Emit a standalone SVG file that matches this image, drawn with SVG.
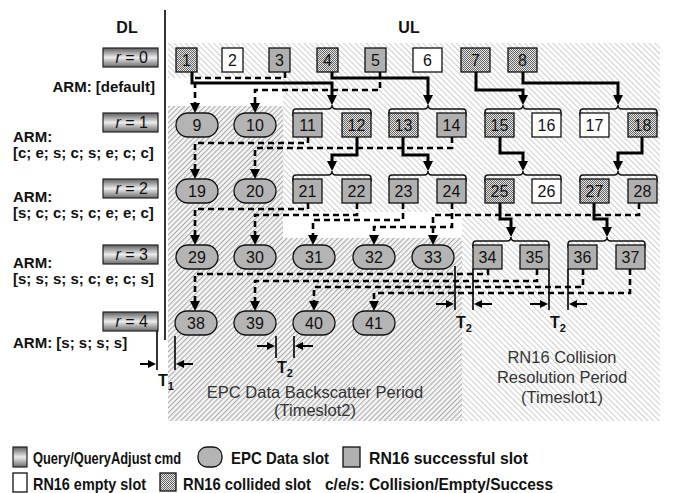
<svg xmlns="http://www.w3.org/2000/svg" width="675" height="493" viewBox="0 0 675 493">
<style>
text{font-family:"Liberation Sans",Arial,sans-serif;fill:#111}
.n{font-size:16px;text-anchor:middle}
.lab{font-size:15px;font-weight:bold}
.hd{font-size:16px;font-weight:bold}
.btxt{font-size:16px;text-anchor:end}
.lg{font-size:16.5px;font-weight:bold}
.per{font-size:16.5px;fill:#333;text-anchor:middle}
.cmd{fill:url(#grad);stroke:#222;stroke-width:1.2}
.succ{fill:#b0b0b0;stroke:#111;stroke-width:1.3}
.epc{fill:#b4b4b4;stroke:#111;stroke-width:1.3}
.empty{fill:#fff;stroke:#111;stroke-width:1.3}
.coll{fill:url(#chk);stroke:#111;stroke-width:1.3}
.brace{fill:none;stroke:#111;stroke-width:1.4}
.solid{fill:none;stroke:#000;stroke-width:3;marker-end:url(#ah)}
.dash{fill:none;stroke:#000;stroke-width:2.6;stroke-dasharray:6 4;marker-end:url(#ah)}
.tl{fill:none;stroke:#000;stroke-width:1.6}
.ta{fill:none;stroke:#000;stroke-width:2;marker-end:url(#as)}
</style>
<defs>
<linearGradient id="grad" x1="0" y1="0" x2="0" y2="1">
<stop offset="0" stop-color="#5e5e5e"/>
<stop offset="0.5" stop-color="#ececec"/>
<stop offset="1" stop-color="#6a6a6a"/>
</linearGradient>
<pattern id="chk" width="2" height="2" patternUnits="userSpaceOnUse">
<rect width="2" height="2" fill="#e6e6e6"/>
<rect width="1" height="1" fill="#666"/>
<rect x="1" y="1" width="1" height="1" fill="#666"/>
</pattern>
<pattern id="hl" width="4" height="4" patternUnits="userSpaceOnUse" patternTransform="rotate(-45)">
<rect width="4" height="4" fill="#fff"/>
<line x1="0.5" y1="0" x2="0.5" y2="4" stroke="#cfcfcf" stroke-width="1"/>
</pattern>
<pattern id="hd" width="3.6" height="3.6" patternUnits="userSpaceOnUse" patternTransform="rotate(45)">
<rect width="3.6" height="3.6" fill="#f4f4f4"/>
<line x1="0.5" y1="0" x2="0.5" y2="3.6" stroke="#a8a8a8" stroke-width="1"/>
</pattern>
<marker id="ah" viewBox="0 0 10 10" refX="0" refY="5" markerWidth="10" markerHeight="10" markerUnits="userSpaceOnUse" orient="auto">
<path d="M0,0 L10,5 L0,10 z" fill="#000"/>
</marker>
<marker id="as" viewBox="0 0 8 8" refX="0" refY="4" markerWidth="8" markerHeight="8" markerUnits="userSpaceOnUse" orient="auto">
<path d="M0,0 L8,4 L0,8 z" fill="#000"/>
</marker>
</defs>

<g id="backgrounds">
<path d="M168,43 H660 V421 H462 V212 H283 V78 H168 Z" fill="url(#hl)"/>
<path d="M168,106 H283 V238 H462 V421 H168 Z" fill="url(#hd)"/>
</g>

<g id="headers">
<text class="hd" x="127" y="33" text-anchor="middle">DL</text>
<text class="hd" x="409" y="33" text-anchor="middle">UL</text>
<line x1="165" y1="10" x2="165" y2="340" stroke="#000" stroke-width="1.6"/>
</g>

<g id="commands">
<g id="r0"><rect class="cmd" x="103" y="48" width="55" height="19"/><text class="btxt" x="148" y="63"><tspan font-style="italic">r</tspan> = 0</text></g>
<g id="r1"><rect class="cmd" x="103" y="113" width="55" height="19"/><text class="btxt" x="148" y="128"><tspan font-style="italic">r</tspan> = 1</text></g>
<g id="r2"><rect class="cmd" x="103" y="179" width="55" height="19"/><text class="btxt" x="148" y="194"><tspan font-style="italic">r</tspan> = 2</text></g>
<g id="r3"><rect class="cmd" x="103" y="245" width="55" height="19"/><text class="btxt" x="148" y="260"><tspan font-style="italic">r</tspan> = 3</text></g>
<g id="r4"><rect class="cmd" x="103" y="312" width="55" height="19"/><text class="btxt" x="148" y="327"><tspan font-style="italic">r</tspan> = 4</text></g>
</g>

<g id="arm-labels">
<text class="lab" x="155" y="92" text-anchor="end">ARM: [default]</text>
<text class="lab" x="13" y="142">ARM:</text>
<text class="lab" x="13" y="158">[c; e; s; c; s; e; c; c]</text>
<text class="lab" x="13" y="202">ARM:</text>
<text class="lab" x="13" y="218">[s; c; c; s; c; e; e; c]</text>
<text class="lab" x="13" y="268">ARM:</text>
<text class="lab" x="13" y="284">[s; s; s; s; c; e; c; s]</text>
<text class="lab" x="13" y="348">ARM: [s; s; s; s]</text>
</g>

<g id="braces">
<path class="brace" d="M293,116 V112 Q293,109 296,109 H328 Q332,109 332,105 Q332,109 336,109 H368 Q371,109 371,112 V116"/>
<path class="brace" d="M389,116 V112 Q389,109 392,109 H424 Q428,109 428,105 Q428,109 432,109 H463 Q466,109 466,112 V116"/>
<path class="brace" d="M485,116 V112 Q485,109 488,109 H519 Q523,109 523,105 Q523,109 527,109 H558 Q561,109 561,112 V116"/>
<path class="brace" d="M580,116 V112 Q580,109 583,109 H614 Q618,109 618,105 Q618,109 622,109 H654 Q657,109 657,112 V116"/>
<path class="brace" d="M293,182 V178 Q293,175 296,175 H328 Q332,175 332,171 Q332,175 336,175 H368 Q371,175 371,178 V182"/>
<path class="brace" d="M389,182 V178 Q389,175 392,175 H424 Q428,175 428,171 Q428,175 432,175 H463 Q466,175 466,178 V182"/>
<path class="brace" d="M485,182 V178 Q485,175 488,175 H519 Q523,175 523,171 Q523,175 527,175 H558 Q561,175 561,178 V182"/>
<path class="brace" d="M580,182 V178 Q580,175 583,175 H614 Q618,175 618,171 Q618,175 622,175 H654 Q657,175 657,178 V182"/>
<path class="brace" d="M473,248 V244 Q473,241 476,241 H507 Q511,241 511,237 Q511,241 515,241 H546 Q549,241 549,244 V248"/>
<path class="brace" d="M568,248 V244 Q568,241 571,241 H603 Q607,241 607,237 Q607,241 611,241 H642 Q645,241 645,244 V248"/>
</g>

<g id="connectors">
<path class="solid" d="M192,72 V83 H332 V95"/>
<path class="solid" d="M332,72 V78 H428 V95"/>
<path class="solid" d="M476,72 V90 H523 V95"/>
<path class="solid" d="M523,72 V83 H618 V95"/>
<path class="dash" d="M285,72 V78 H195 V103"/>
<path class="dash" d="M380,72 V90 H255 V103"/>
<path class="solid" d="M357,137 V155 H332 V161"/>
<path class="solid" d="M403,137 V155 H428 V161"/>
<path class="solid" d="M500,137 V153 H523 V161"/>
<path class="solid" d="M642,137 V153 H618 V161"/>
<path class="dash" d="M308,137 V143 H195 V169"/>
<path class="dash" d="M452,137 V148 H255 V169"/>
<path class="solid" d="M500,203 V219 H511 V227"/>
<path class="solid" d="M594,203 V219 H607 V227"/>
<path class="dash" d="M308,203 V209 H195 V235"/>
<path class="dash" d="M357,203 V215 H255 V235"/>
<path class="dash" d="M403,203 V220 H313 V235"/>
<path class="dash" d="M452,203 V227 H374 V235"/>
<path class="dash" d="M639,203 V215 H433 V235"/>
<path class="dash" d="M488,269 V274 H195 V301"/>
<path class="dash" d="M537,269 V281 H255 V301"/>
<path class="dash" d="M583,269 V287 H314 V301"/>
<path class="dash" d="M630,269 V293 H374 V301"/>
</g>

<g id="row0">
<g id="n1"><rect class="coll" x="176" y="48" width="21" height="24"/><text class="n" x="186.5" y="66">1</text></g>
<g id="n2"><rect class="empty" x="222" y="48" width="21" height="24"/><text class="n" x="232.5" y="66">2</text></g>
<g id="n3"><rect class="succ" x="269" y="48" width="21" height="24"/><text class="n" x="279.5" y="66">3</text></g>
<g id="n4"><rect class="coll" x="317" y="48" width="21" height="24"/><text class="n" x="327.5" y="66">4</text></g>
<g id="n5"><rect class="succ" x="365" y="48" width="21" height="24"/><text class="n" x="375.5" y="66">5</text></g>
<g id="n6"><rect class="empty" x="413" y="48" width="29" height="24"/><text class="n" x="427.5" y="66">6</text></g>
<g id="n7"><rect class="coll" x="461" y="48" width="29" height="24"/><text class="n" x="475.5" y="66">7</text></g>
<g id="n8"><rect class="coll" x="508" y="48" width="29" height="24"/><text class="n" x="522.5" y="66">8</text></g>
</g>

<g id="row1">
<g id="n9"><rect class="epc" x="176" y="113" width="42" height="24" rx="12"/><text class="n" x="197" y="131">9</text></g>
<g id="n10"><rect class="epc" x="234" y="113" width="42" height="24" rx="12"/><text class="n" x="255" y="131">10</text></g>
<g id="n11"><rect class="succ" x="293" y="113" width="29" height="24"/><text class="n" x="307.5" y="131">11</text></g>
<g id="n12"><rect class="coll" x="342" y="113" width="29" height="24"/><text class="n" x="356.5" y="131">12</text></g>
<g id="n13"><rect class="coll" x="389" y="113" width="29" height="24"/><text class="n" x="403.5" y="131">13</text></g>
<g id="n14"><rect class="succ" x="437" y="113" width="29" height="24"/><text class="n" x="451.5" y="131">14</text></g>
<g id="n15"><rect class="coll" x="485" y="113" width="29" height="24"/><text class="n" x="499.5" y="131">15</text></g>
<g id="n16"><rect class="empty" x="532" y="113" width="29" height="24"/><text class="n" x="546.5" y="131">16</text></g>
<g id="n17"><rect class="empty" x="580" y="113" width="29" height="24"/><text class="n" x="594.5" y="131">17</text></g>
<g id="n18"><rect class="coll" x="628" y="113" width="29" height="24"/><text class="n" x="642.5" y="131">18</text></g>
</g>

<g id="row2">
<g id="n19"><rect class="epc" x="176" y="179" width="42" height="24" rx="12"/><text class="n" x="197" y="197">19</text></g>
<g id="n20"><rect class="epc" x="234" y="179" width="42" height="24" rx="12"/><text class="n" x="255" y="197">20</text></g>
<g id="n21"><rect class="succ" x="293" y="179" width="29" height="24"/><text class="n" x="307.5" y="197">21</text></g>
<g id="n22"><rect class="succ" x="342" y="179" width="29" height="24"/><text class="n" x="356.5" y="197">22</text></g>
<g id="n23"><rect class="succ" x="389" y="179" width="29" height="24"/><text class="n" x="403.5" y="197">23</text></g>
<g id="n24"><rect class="succ" x="437" y="179" width="29" height="24"/><text class="n" x="451.5" y="197">24</text></g>
<g id="n25"><rect class="coll" x="485" y="179" width="29" height="24"/><text class="n" x="499.5" y="197">25</text></g>
<g id="n26"><rect class="empty" x="532" y="179" width="29" height="24"/><text class="n" x="546.5" y="197">26</text></g>
<g id="n27"><rect class="coll" x="580" y="179" width="29" height="24"/><text class="n" x="594.5" y="197">27</text></g>
<g id="n28"><rect class="succ" x="628" y="179" width="29" height="24"/><text class="n" x="642.5" y="197">28</text></g>
</g>

<g id="row3">
<g id="n29"><rect class="epc" x="176" y="245" width="42" height="24" rx="12"/><text class="n" x="197" y="263">29</text></g>
<g id="n30"><rect class="epc" x="234" y="245" width="42" height="24" rx="12"/><text class="n" x="255" y="263">30</text></g>
<g id="n31"><rect class="epc" x="293" y="245" width="42" height="24" rx="12"/><text class="n" x="314" y="263">31</text></g>
<g id="n32"><rect class="epc" x="353" y="245" width="42" height="24" rx="12"/><text class="n" x="374" y="263">32</text></g>
<g id="n33"><rect class="epc" x="412" y="245" width="42" height="24" rx="12"/><text class="n" x="433" y="263">33</text></g>
<g id="n34"><rect class="succ" x="473" y="245" width="29" height="24"/><text class="n" x="487.5" y="263">34</text></g>
<g id="n35"><rect class="succ" x="520" y="245" width="29" height="24"/><text class="n" x="534.5" y="263">35</text></g>
<g id="n36"><rect class="succ" x="568" y="245" width="29" height="24"/><text class="n" x="582.5" y="263">36</text></g>
<g id="n37"><rect class="succ" x="616" y="245" width="29" height="24"/><text class="n" x="630.5" y="263">37</text></g>
</g>

<g id="row4">
<g id="n38"><rect class="epc" x="175" y="311" width="42" height="24" rx="12"/><text class="n" x="196" y="329">38</text></g>
<g id="n39"><rect class="epc" x="234" y="311" width="42" height="24" rx="12"/><text class="n" x="255" y="329">39</text></g>
<g id="n40"><rect class="epc" x="293" y="311" width="42" height="24" rx="12"/><text class="n" x="314" y="329">40</text></g>
<g id="n41"><rect class="epc" x="353" y="311" width="42" height="24" rx="12"/><text class="n" x="374" y="329">41</text></g>
</g>

<g id="timing">
<line class="tl" x1="157" y1="331" x2="157" y2="370"/>
<line class="tl" x1="175" y1="336" x2="175" y2="370"/>
<path class="ta" d="M140,364 H148"/>
<path class="ta" d="M193,364 H184"/>
<text class="hd" x="158" y="386">T<tspan font-size="11" dy="4">1</tspan></text>
<line class="tl" x1="276" y1="336" x2="276" y2="358"/>
<line class="tl" x1="294" y1="336" x2="294" y2="358"/>
<path class="ta" d="M257,346 H267"/>
<path class="ta" d="M313,346 H303"/>
<text class="hd" x="277" y="373">T<tspan font-size="11" dy="4">2</tspan></text>
<line class="tl" x1="455" y1="266" x2="455" y2="310"/>
<line class="tl" x1="473" y1="269" x2="473" y2="310"/>
<path class="ta" d="M436,304 H446"/>
<path class="ta" d="M492,304 H482"/>
<text class="hd" x="456" y="328">T<tspan font-size="11" dy="4">2</tspan></text>
<line class="tl" x1="549" y1="269" x2="549" y2="310"/>
<line class="tl" x1="568" y1="269" x2="568" y2="310"/>
<path class="ta" d="M530,304 H540"/>
<path class="ta" d="M587,304 H577"/>
<text class="hd" x="550" y="328">T<tspan font-size="11" dy="4">2</tspan></text>
</g>

<g id="periods">
<text class="per" x="315" y="398">EPC Data Backscatter Period</text>
<text class="per" x="315" y="416">(Timeslot2)</text>
<text class="per" x="562" y="363">RN16 Collision</text>
<text class="per" x="562" y="383">Resolution Period</text>
<text class="per" x="562" y="403">(Timeslot1)</text>
</g>

<g id="legend">
<rect class="cmd" x="13" y="447" width="14" height="20"/>
<text class="lg" x="33" y="464" textLength="148" lengthAdjust="spacingAndGlyphs">Query/QueryAdjust  cmd</text>
<rect class="epc" x="198" y="447" width="24" height="20" rx="9"/>
<text class="lg" x="231" y="464" textLength="98" lengthAdjust="spacingAndGlyphs">EPC Data slot</text>
<rect class="succ" x="343" y="447" width="17" height="20"/>
<text class="lg" x="369" y="464" textLength="159" lengthAdjust="spacingAndGlyphs">RN16 successful slot</text>
<rect class="empty" x="13" y="473" width="14" height="19"/>
<text class="lg" x="33" y="490" textLength="113" lengthAdjust="spacingAndGlyphs">RN16 empty slot</text>
<rect class="coll" x="160" y="473" width="16" height="18"/>
<text class="lg" x="183" y="490" textLength="128" lengthAdjust="spacingAndGlyphs">RN16 collided slot</text>
<text class="lg" x="325" y="490" textLength="228" lengthAdjust="spacingAndGlyphs">c/e/s: Collision/Empty/Success</text>
</g>
</svg>
